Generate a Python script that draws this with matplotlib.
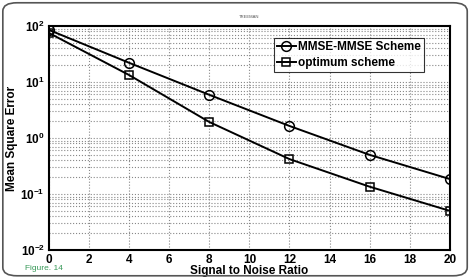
import matplotlib.pyplot as plt
from matplotlib.patches import FancyBboxPatch
from matplotlib.ticker import LogLocator, FuncFormatter
import numpy as np

plt.rcParams['font.family'] = 'Liberation Sans'
plt.rcParams['mathtext.fontset'] = 'custom'
plt.rcParams['mathtext.rm'] = 'Liberation Sans:bold'
plt.rcParams['mathtext.bf'] = 'Liberation Sans:bold'

snr = [0, 4, 8, 12, 16, 20]
mmse_mmse = [85, 22, 5.9, 1.64, 0.50, 0.185]
optimum = [75, 13.3, 1.93, 0.42, 0.135, 0.05]
labels = ['MMSE-MMSE Scheme', 'optimum scheme']

fig = plt.figure(figsize=(4.71, 2.78), dpi=100)
# rounded frame around the figure
frame = FancyBboxPatch((0.006, 0.008), 0.986, 0.982, boxstyle='round,pad=0,rounding_size=0.03',
                       transform=fig.transFigure, fill=False, edgecolor='#555555', linewidth=1.2)
fig.patches.append(frame)

ax = fig.add_axes([0.104, 0.1007, 0.851, 0.8058])
ax.semilogy(snr, mmse_mmse, '-o', color='black', lw=1.4, ms=7, mfc='none', mew=1.1, label=labels[0])
ax.semilogy(snr, optimum, '-s', color='black', lw=1.4, ms=6, mfc='none', mew=1.1, label=labels[1])

ax.set_xlim(0, 20)
ax.set_ylim(1e-2, 1e2)
ax.set_xticks(range(0, 21, 2))
ax.yaxis.set_major_locator(LogLocator(base=10, numticks=10))
ax.yaxis.set_minor_locator(LogLocator(base=10, subs=np.arange(2, 10), numticks=20))
ax.yaxis.set_major_formatter(FuncFormatter(lambda v, p: r'$\mathbf{10^{%d}}$' % round(np.log10(v))))
ax.tick_params(axis='both', which='major', labelsize=8.5, length=0, pad=3)
ax.tick_params(axis='y', which='minor', length=0)
for lab in ax.get_xticklabels():
    lab.set_fontweight('bold')

ax.grid(True, which='major', axis='both', color='#888888', linestyle=':', linewidth=0.8)
ax.grid(True, which='minor', axis='y', color='#888888', linestyle=':', linewidth=0.8)
for s in ax.spines.values():
    s.set_linewidth(1.5)

ax.set_xlabel('Signal to Noise Ratio', fontsize=8.5, fontweight='bold', labelpad=-1)
ax.set_ylabel('Mean Square Error', fontsize=8.5, fontweight='bold', labelpad=2)
ax.set_title('TREEMAN', fontsize=3, color='#555555', pad=6)

leg = ax.legend(loc='upper right', bbox_to_anchor=(0.935, 0.945), fontsize=8.5, frameon=True,
                fancybox=False, edgecolor='black', handlelength=1.6, handletextpad=0.2,
                borderpad=0.25, labelspacing=0.3, borderaxespad=0)
for t in leg.get_texts():
    t.set_fontweight('bold')
leg.get_frame().set_linewidth(0.8)

fig.text(0.053, 0.03, 'Figure. 14', fontsize=6, color='#3a9a5a')

fig.savefig('out.png', dpi=100)
